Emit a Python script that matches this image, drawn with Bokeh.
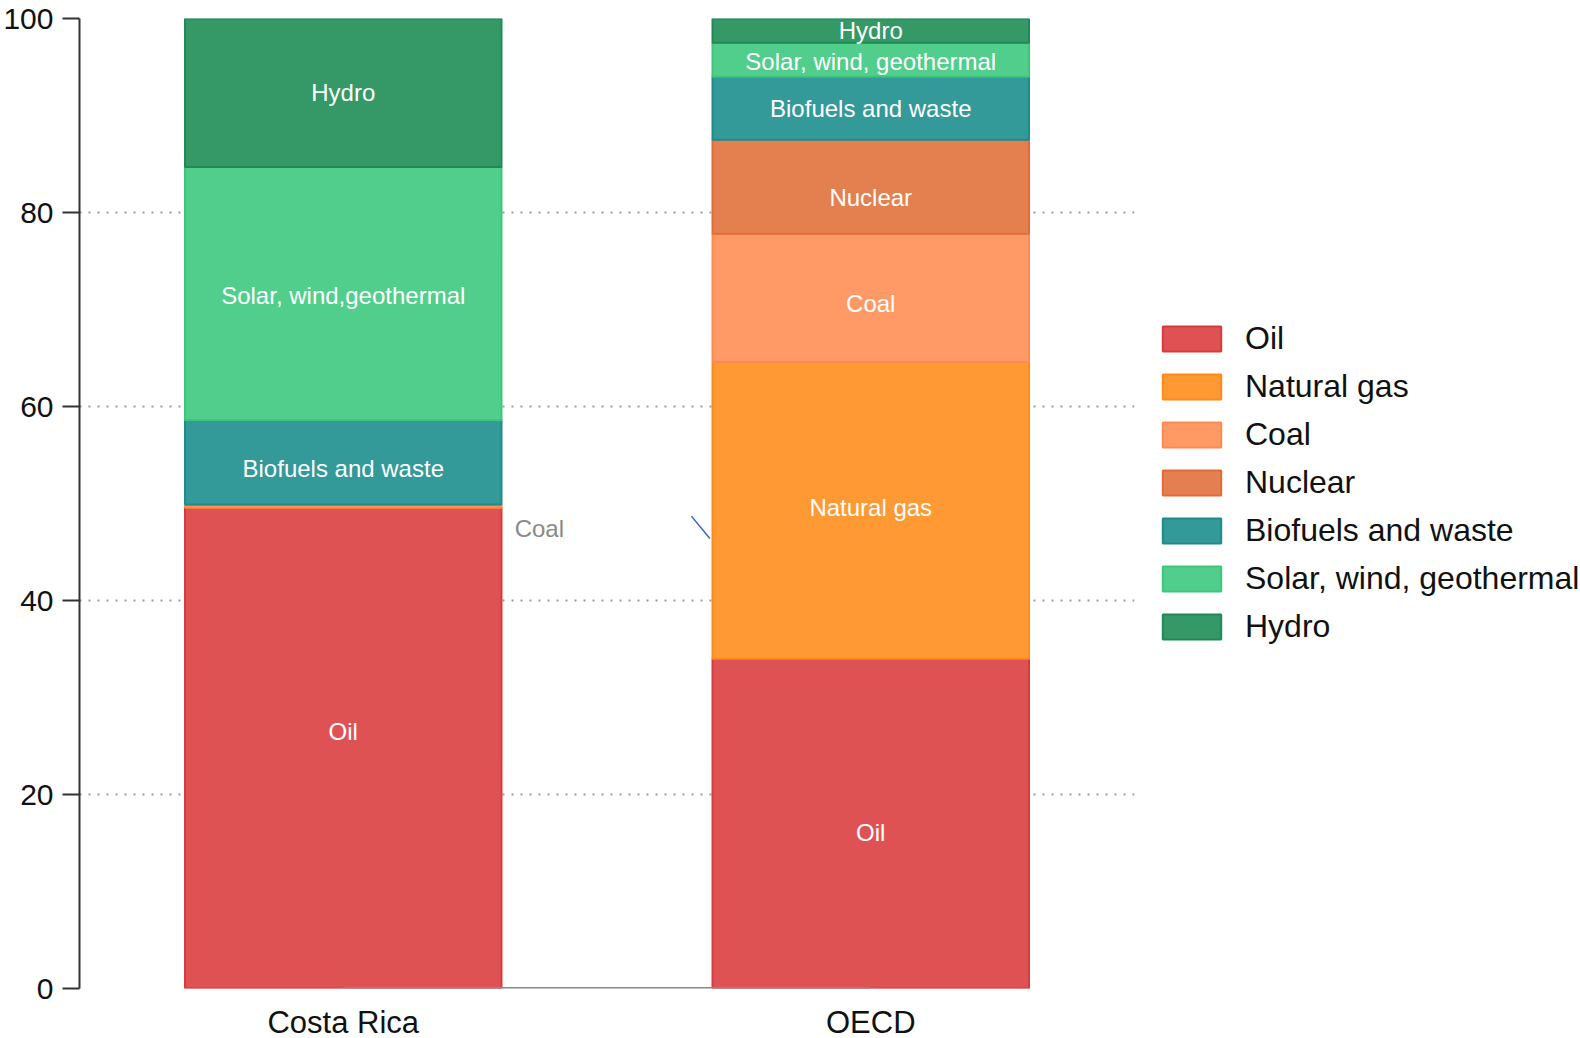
from bokeh.plotting import figure
from bokeh.models import FactorRange, Legend, LegendItem, FixedTicker, ColumnDataSource
from bokeh.transform import dodge
from bokeh.core.properties import value
from bokeh.embed import file_html
from bokeh.resources import INLINE

# Primary energy supply shares (%)
regions = ["Costa Rica", "OECD"]
sources = ["Oil", "Natural gas", "Coal", "Nuclear", "Biofuels and waste",
           "Solar, wind, geothermal", "Hydro"]
costa_rica = [49.6, 0.0, 0.3, 0.0, 8.7, 26.1, 15.3]
oecd = [34.0, 30.6, 13.2, 9.7, 6.5, 3.5, 2.5]
costa_rica_labels = ["Oil", "", "", "", "Biofuels and waste",
                     "Solar, wind,geothermal", "Hydro"]
oecd_labels = ["Oil", "Natural gas", "Coal", "Nuclear", "Biofuels and waste",
               "Solar, wind, geothermal", "Hydro"]
y_ticks = [0, 20, 40, 60, 80, 100]

# styling: segment colours and small vertical nudges (px, down positive) for in-bar labels
fills = ["#DF5254", "#FF9933", "#FF9966", "#E48050", "#339999", "#52CE8C", "#349966"]
edges = ["#D93A3D", "#FF8A1A", "#FF8A4D", "#E36B35", "#1E8C8A", "#3CC67A", "#1F8A55"]
cr_nudge = [-16, 0, 0, 0, 6, 2, 0]
oecd_nudge = [9, -3, 6, 11, 0, 2, 0]

FONT = "Liberation Sans"

p = figure(x_range=FactorRange(*regions, range_padding=0), y_range=(0, 100),
           frame_width=1055, frame_height=970,
           min_border_left=79, min_border_top=18, min_border_bottom=0,
           min_border_right=0, output_backend="svg", toolbar_location=None,
           background_fill_color="white", border_fill_color="white")
p.outline_line_color = None

# grid
p.xgrid.grid_line_color = None
p.ygrid.ticker = FixedTicker(ticks=y_ticks)
p.ygrid.grid_line_color = "#9a9a9a"
p.ygrid.grid_line_dash = "2 7"
p.ygrid.grid_line_width = 2

# y axis
p.yaxis.ticker = FixedTicker(ticks=y_ticks)
p.yaxis.axis_line_color = "#333333"
p.yaxis.axis_line_width = 2
p.yaxis.major_tick_line_color = "#333333"
p.yaxis.major_tick_line_width = 2
p.yaxis.major_tick_in = 0
p.yaxis.major_tick_out = 17
p.yaxis.minor_tick_line_color = None
p.yaxis.major_label_standoff = 9
p.yaxis.major_label_text_font = FONT
p.yaxis.major_label_text_font_size = "30px"
p.yaxis.major_label_text_color = "#111111"

# x axis
p.xaxis.axis_line_color = None
p.xaxis.major_tick_line_color = None
p.xaxis.minor_tick_line_color = None
p.xaxis.major_tick_in = 0
p.xaxis.major_tick_out = 0
p.xaxis.major_label_standoff = 16
p.xaxis.major_label_text_font = FONT
p.xaxis.major_label_text_font_size = "31px"
p.xaxis.major_label_text_color = "#111111"

# stacked segments
legend_items = []
cr_bottom, oecd_bottom = 0.0, 0.0
label_x, label_y, label_t, label_dy = [], [], [], []
for i, name in enumerate(sources):
    bottoms = [cr_bottom, oecd_bottom]
    tops = [cr_bottom + costa_rica[i], oecd_bottom + oecd[i]]
    src = ColumnDataSource(dict(x=regions, bottom=bottoms, top=tops))
    r = p.vbar(x="x", bottom="bottom", top="top", width=0.6, source=src,
               fill_color=fills[i], line_color=edges[i], line_width=2)
    legend_items.append(LegendItem(label=name, renderers=[r]))
    for reg, b, t, lab, dy in zip(regions, bottoms, tops,
                                  [costa_rica_labels[i], oecd_labels[i]],
                                  [cr_nudge[i], oecd_nudge[i]]):
        if lab:
            label_x.append(reg)
            label_y.append((b + t) / 2)
            label_t.append(lab)
            label_dy.append(dy)
    cr_bottom, oecd_bottom = tops

lab_src = ColumnDataSource(dict(x=label_x, y=label_y, t=label_t, dy=label_dy))
p.text(x="x", y="y", text="t", y_offset="dy", source=lab_src, text_color="white",
       text_font=value(FONT), text_font_size="24px",
       text_align="center", text_baseline="middle")

# small Costa Rica coal share, labelled beside the bar
coal_y = sum(costa_rica[:2]) + costa_rica[2] / 2
coal_src = ColumnDataSource(dict(x=["Costa Rica"], y=[coal_y], t=["Coal"]))
p.text(x=dodge("x", 0.325, range=p.x_range), y="y", text="t", source=coal_src,
       y_offset=23,
       text_color="#8a8a8a", text_font=value(FONT), text_font_size="24px",
       text_align="left", text_baseline="middle")
lead_src = ColumnDataSource(dict(x0=["OECD"], x1=["OECD"], y0=[48.7], y1=[46.4]))
p.segment(x0=dodge("x0", -0.34, range=p.x_range), y0="y0",
          x1=dodge("x1", -0.305, range=p.x_range), y1="y1", source=lead_src,
          line_color="#3366CC", line_width=1.5)

# baseline between the two category centres
p.line(x=regions, y=[0, 0], line_color="#888888", line_width=3)

legend = Legend(items=legend_items, location=(21, 343),
                label_text_font=FONT, label_text_font_size="32px",
                label_text_color="#111111",
                glyph_width=73, glyph_height=31, label_standoff=17,
                spacing=11, padding=0, margin=0,
                border_line_color=None, background_fill_alpha=0)
p.add_layout(legend, "right")

open("out.html", "w").write(file_html(p, INLINE))
